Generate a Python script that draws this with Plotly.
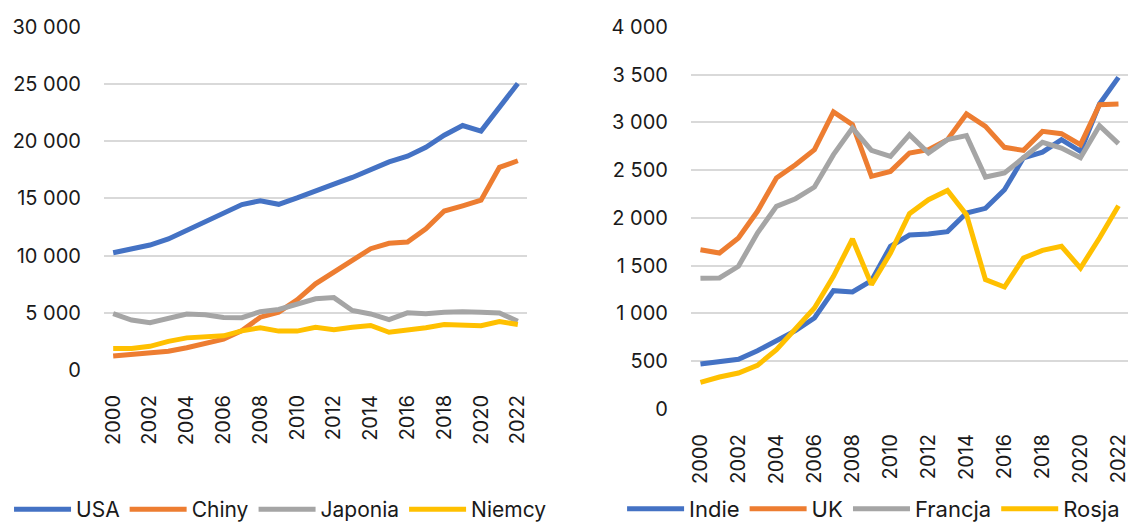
import plotly.graph_objects as go

years = list(range(2000, 2023))

# lewy wykres
usa = [10250, 10580, 10930, 11460, 12220, 13040, 13820, 14470, 14800, 14490, 15050, 15600,
       16250, 16840, 17550, 18200, 18700, 19480, 20530, 21380, 20900, 23000, 25050]
chiny = [1220, 1340, 1470, 1640, 1950, 2290, 2700, 3450, 4620, 5060, 6140, 7540,
         8570, 9590, 10610, 11080, 11200, 12340, 13900, 14360, 14850, 17720, 18300]
japonia = [4930, 4370, 4130, 4520, 4890, 4830, 4600, 4580, 5100, 5290, 5760, 6230,
           6330, 5210, 4900, 4400, 5000, 4930, 5040, 5100, 5050, 4990, 4270]
niemcy = [1880, 1890, 2070, 2500, 2810, 2850, 2990, 3420, 3700, 3400, 3400, 3740,
          3530, 3730, 3890, 3300, 3470, 3690, 3970, 3890, 3880, 4240, 3980]

# prawy wykres
indie = [471, 490, 520, 610, 712, 820, 953, 1239, 1225, 1344, 1703, 1822,
         1832, 1857, 2052, 2101, 2296, 2630, 2690, 2820, 2698, 3193, 3472]
uk = [1668, 1633, 1790, 2070, 2419, 2558, 2715, 3110, 2977, 2436, 2488, 2680,
      2715, 2820, 3089, 2959, 2740, 2708, 2907, 2883, 2768, 3186, 3193]
francja = [1368, 1372, 1494, 1843, 2122, 2202, 2324, 2663, 2942, 2708, 2645, 2872,
           2680, 2820, 2862, 2429, 2471, 2628, 2792, 2733, 2631, 2967, 2778]
rosja = [279, 335, 377, 457, 621, 831, 1057, 1389, 1780, 1302, 1633, 2045,
         2192, 2289, 2035, 1354, 1277, 1581, 1661, 1703, 1476, 1790, 2129]

colors = ['#4472C4', '#ED7D31', '#A5A5A5', '#FFC000']

left = {'USA': usa, 'Chiny': chiny, 'Japonia': japonia, 'Niemcy': niemcy}
right = {'Indie': indie, 'UK': uk, 'Francja': francja, 'Rosja': rosja}

fig = go.Figure()
for (name, vals), c in zip(left.items(), colors):
    fig.add_trace(go.Scatter(x=years, y=vals, name=name, mode='lines',
                             line=dict(color=c, width=5), xaxis='x', yaxis='y',
                             legend='legend'))
for (name, vals), c in zip(right.items(), colors):
    fig.add_trace(go.Scatter(x=years, y=vals, name=name, mode='lines',
                             line=dict(color=c, width=5), xaxis='x2', yaxis='y2',
                             legend='legend2'))

font_family = 'Inter, Open Sans, sans-serif'
tick_font = dict(family=font_family, size=20, color='#1a1a1a')
xax = dict(range=[1999.5, 2022.5], tick0=2000, dtick=2, tickangle=-90,
           showgrid=False, zeroline=False, showline=False, ticks='',
           tickfont=tick_font, automargin=False, ticklabelstandoff=20,
           ticklabeloverflow='allow')
yax = dict(showgrid=True, gridcolor='#D9D9D9', gridwidth=1.5, zeroline=False,
           showline=False, ticks='', tickformat=',', tickfont=tick_font,
           automargin=False, ticklabelstandoff=22)

fig.update_layout(
    width=1129, height=530, autosize=False,
    margin=dict(l=0, r=0, t=0, b=0),
    paper_bgcolor='white', plot_bgcolor='white',
    separators=', ',
    xaxis=dict(xax, domain=[0.0921, 0.4668], anchor='y'),
    yaxis=dict(yax, domain=[0.3019, 0.9491], range=[0, 30000], dtick=5000, anchor='x'),
    xaxis2=dict(xax, domain=[0.6120, 0.9991], anchor='y2'),
    yaxis2=dict(yax, domain=[0.2283, 0.9491], range=[0, 4000], dtick=500, anchor='x2'),
    legend=dict(orientation='h', x=0.008, y=0.0, xanchor='left', yanchor='bottom',
                font=dict(family=font_family, size=21, color='#1a1a1a'),
                bgcolor='rgba(0,0,0,0)', itemwidth=57, tracegroupgap=0),
    legend2=dict(orientation='h', x=0.551, y=0.0, xanchor='left', yanchor='bottom',
                 font=dict(family=font_family, size=22, color='#1a1a1a'),
                 bgcolor='rgba(0,0,0,0)', itemwidth=57, tracegroupgap=0),
    showlegend=True,
)

fig.write_html('out.html', config={'displayModeBar': False},
               post_script="document.body.style.margin='0';")
